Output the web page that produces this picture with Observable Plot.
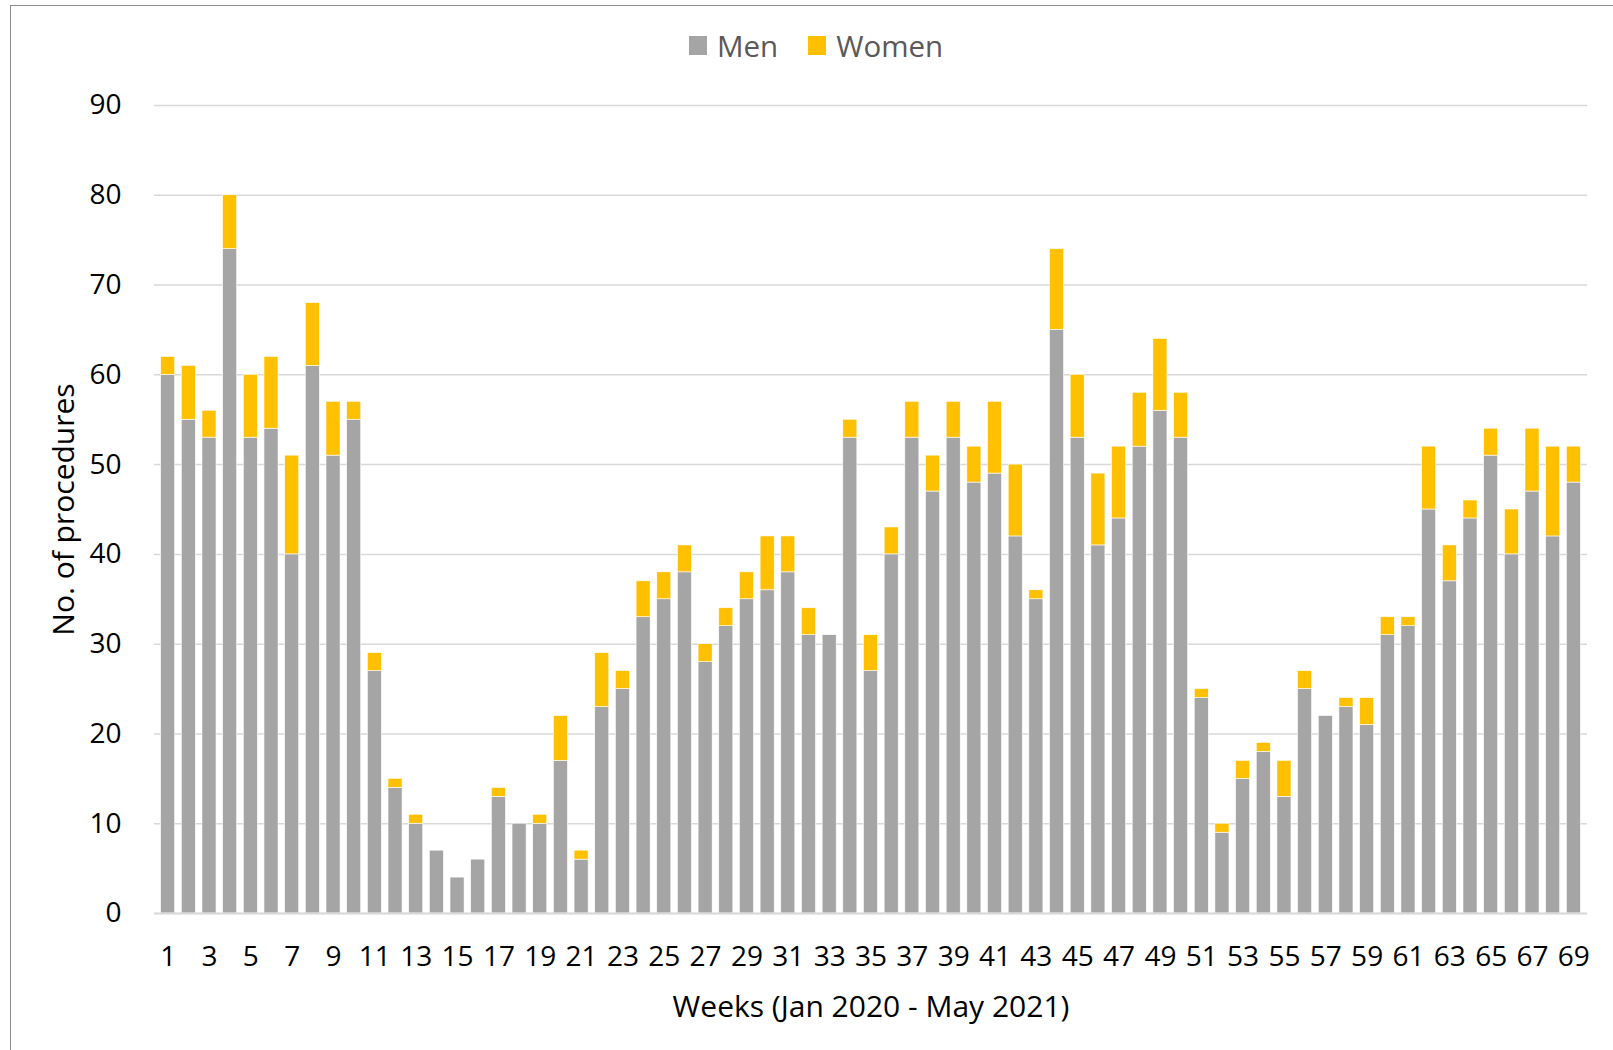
<!DOCTYPE html>
<html>
<head>
<meta charset="utf-8">
<script src="https://cdn.jsdelivr.net/npm/d3@7"></script>
<script src="https://cdn.jsdelivr.net/npm/@observablehq/plot@0.6"></script>
<style>
  html, body { margin: 0; padding: 0; background: #fff; width: 1613px; height: 1050px; overflow: hidden; }
  body { font-family: "Open Sans", sans-serif; position: relative; }
  #frame { position: absolute; left: 10px; top: 5px; width: 1620px; height: 1100px; border: 1.5px solid #8c8c8c; box-sizing: border-box; }
  #legend { position: absolute; top: 5px; left: 0; width: 1613px; height: 80px; display: flex; align-items: center; justify-content: flex-start; padding-left: 689px; box-sizing: border-box; font-size: 29.5px; color: #595959; }
  #legend .item { display: flex; align-items: center; margin-right: 30px; }
  #legend .sw { width: 18px; height: 19px; margin-right: 10px; }
  #chart { position: absolute; top: 80px; left: 0; }
</style>
</head>
<body>
<div id="frame"></div>
<div id="legend"></div>
<div id="chart"></div>
<script>
const weeks = d3.range(1, 70);
const men =   [60,55,53,74,53,54,40,61,51,55,27,14,10,7,4,6,13,10,10,17,6,23,25,33,35,38,28,32,35,36,38,31,31,53,27,40,53,47,53,48,49,42,35,65,53,41,44,52,56,53,24,9,15,18,13,25,22,23,21,31,32,45,37,44,51,40,47,42,48];
const total = [62,61,56,80,60,62,51,68,57,57,29,15,11,7,4,6,14,10,11,22,7,29,27,37,38,41,30,34,38,42,42,34,31,55,31,43,57,51,57,52,57,50,36,74,60,49,52,58,64,58,25,10,17,19,17,27,22,24,24,33,33,52,41,46,54,45,54,52,52];
const women = total.map((t, i) => t - men[i]);
const seriesNames = ["Men", "Women"];
const seriesColors = ["#a5a5a5", "#ffc000"];
const yTicks = d3.range(0, 100, 10);

const rows = [];
weeks.forEach((w, i) => {
  rows.push({week: w, sex: "Men", value: men[i]});
  rows.push({week: w, sex: "Women", value: women[i]});
});

// legend
const legend = document.getElementById("legend");
seriesNames.forEach((n, i) => {
  const it = document.createElement("div");
  it.className = "item";
  it.innerHTML = `<span class="sw" style="background:${seriesColors[i]}"></span><span>${n}</span>`;
  legend.appendChild(it);
});

const chart = Plot.plot({
  width: 1613,
  height: 970,
  marginTop: 25,
  marginBottom: 137,
  marginLeft: 154,
  marginRight: 26,
  style: {fontFamily: "Open Sans, sans-serif", fontSize: "28px", color: "#000", background: "transparent"},
  x: {domain: weeks, padding: 0.32},
  y: {domain: [0, 90], ticks: yTicks},
  color: {domain: seriesNames, range: seriesColors},
  marks: [
    Plot.gridY(yTicks, {stroke: "#d9d9d9", strokeOpacity: 1, strokeWidth: 1.5}),
    Plot.barY(rows, {x: "week", y: "value", fill: "sex", stroke: "#fff", strokeWidth: 0.6}),
    Plot.ruleY([0], {stroke: "#d9d9d9", strokeWidth: 2}),
    Plot.axisY(yTicks, {tickSize: 0, tickPadding: 33, label: null, fill: "#000"}),
    Plot.axisY({label: "No. of procedures", labelAnchor: "center", labelOffset: 102, labelArrow: "none", tickSize: 0, tickFormat: () => "", fontSize: 30, fill: "#000"}),
    Plot.axisX({tickSize: 0, tickPadding: 33, tickFormat: (d) => d % 2 === 1 ? String(d) : "", label: null, fill: "#000"}),
    Plot.axisX({label: "Weeks (Jan 2020 - May 2021)", labelAnchor: "center", labelOffset: 103, labelArrow: "none", tickSize: 0, tickFormat: () => "", fontSize: 30, fill: "#000"})
  ]
});
document.getElementById("chart").appendChild(chart);
</script>
</body>
</html>
